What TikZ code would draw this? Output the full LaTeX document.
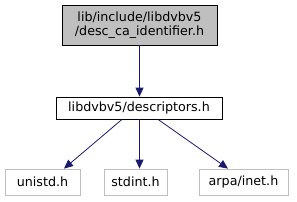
\documentclass[tikz,border=0pt]{standalone}
\usepackage{fontspec}
\setmainfont{DejaVu Sans}
\usetikzlibrary{arrows.meta}
\definecolor{edgeblue}{HTML}{191970}
\definecolor{boxgray}{HTML}{BFBFBF}
\begin{document}
\begin{tikzpicture}[x=1pt,y=-1pt,
  box/.style={draw=black, line width=0.8pt, inner sep=0pt, font=\fontsize{12.7}{14.5}\selectfont, align=center},
  extbox/.style={draw=boxgray, line width=0.8pt, inner sep=0pt, font=\fontsize{12.7}{14.5}\selectfont},
  conn/.style={draw=edgeblue, line width=0.8pt, -{Triangle[length=9pt,width=8pt]}}]
\useasboundingbox (0,0) rectangle (297,201);
\node[box, fill=boxgray, minimum width=155pt, minimum height=40pt] (top) at (139.5,25) {lib/include/libdvbv5\\/desc\_ca\_identifier.h};
\node[box, minimum width=166pt, minimum height=22pt] (desc) at (139,108) {libdvbv5/descriptors.h};
\node[extbox, minimum width=75pt, minimum height=26pt] (unistd) at (42.5,182) {unistd.h};
\node[extbox, minimum width=63pt, minimum height=26pt] (stdint) at (135.5,182) {stdint.h};
\node[extbox, minimum width=89pt, minimum height=26pt] (arpa) at (243.5,182) {arpa/inet.h};
\draw[conn] (top.south -| 139.5,0) -- (desc.north -| 139.5,0);
\draw[conn] (desc.south -| 122,0) -- (unistd.north -| 64,0);
\draw[conn] (desc.south -| 139.5,0) -- (stdint.north -| 139.5,0);
\draw[conn] (desc.south -| 158,0) -- (arpa.north -| 228,0);
\end{tikzpicture}
\end{document}
